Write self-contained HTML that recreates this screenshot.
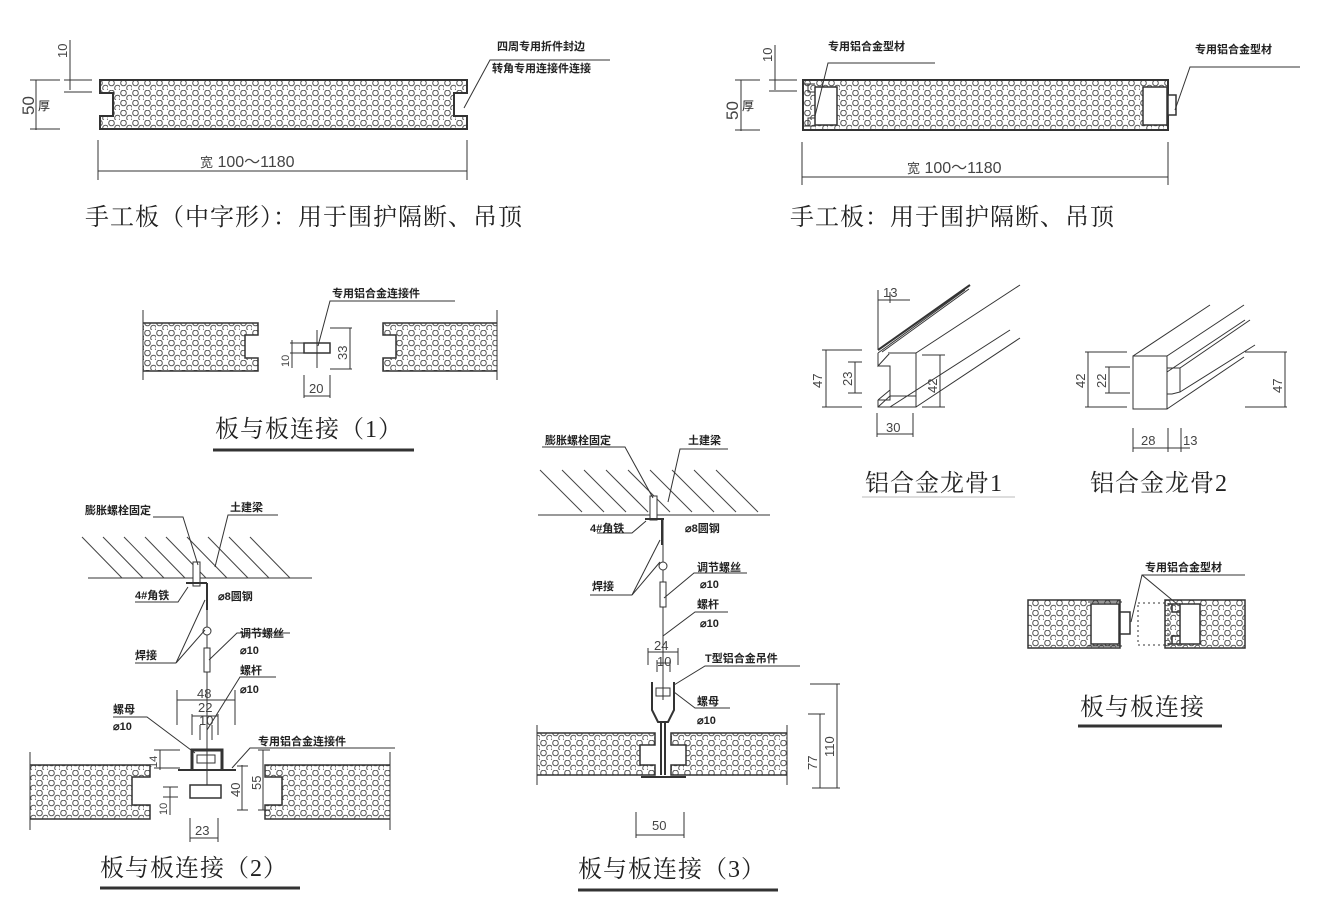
<!DOCTYPE html>
<html><head><meta charset="utf-8">
<style>
html,body{margin:0;padding:0;background:#fff;}
svg{display:block;}
.s{font-family:"Liberation Sans","Noto Sans CJK SC",sans-serif;font-size:11px;font-weight:bold;fill:#222;}
.d{font-family:"Liberation Sans",sans-serif;font-size:13px;fill:#444;}
.t{font-family:"Liberation Serif","Noto Serif CJK SC",serif;font-size:24px;fill:#222;letter-spacing:1px;}
</style></head>
<body>
<svg width="1328" height="909" viewBox="0 0 1328 909" xmlns="http://www.w3.org/2000/svg">
<defs>
<pattern id="p" width="12" height="10" patternUnits="userSpaceOnUse">
<circle cx="3.5" cy="3" r="2.8" fill="none" stroke="#555" stroke-width="1"/>
<circle cx="9.5" cy="8" r="2.8" fill="none" stroke="#555" stroke-width="1"/>
</pattern>
</defs>
<g stroke="#333" fill="none" stroke-width="1">

<path d="M100,80 H467 V93 H454 V116 H467 V129 H100 V116 H113 V93 H100 Z" fill="url(#p)" stroke-width="2"/>
<line x1="70" y1="40" x2="70" y2="90"/><line x1="64" y1="80" x2="92" y2="80"/><line x1="64" y1="92" x2="92" y2="92"/>
<line x1="36" y1="80" x2="36" y2="130"/><line x1="30" y1="80" x2="60" y2="80"/><line x1="30" y1="129" x2="60" y2="129"/>
<line x1="98" y1="140" x2="98" y2="180"/><line x1="467" y1="140" x2="467" y2="180"/><line x1="98" y1="171" x2="467" y2="171"/>
<polyline points="464,108 490,60 610,60"/>

<rect x="803" y="80" width="365" height="50" fill="url(#p)" stroke-width="2"/>
<rect x="815" y="87" width="22" height="38" fill="#fff" stroke-width="1.5"/>
<path d="M803,84 H815 M803,126 H815 M808,84 V92 H815 M808,126 V118 H815"/>
<rect x="1143" y="87" width="24" height="38" fill="#fff" stroke-width="1.5"/>
<rect x="1168" y="95" width="8" height="20" fill="#fff" stroke-width="1.5"/>
<line x1="775" y1="45" x2="775" y2="90"/><line x1="769" y1="80" x2="797" y2="80"/><line x1="769" y1="91" x2="797" y2="91"/>
<line x1="741" y1="80" x2="741" y2="131"/><line x1="735" y1="80" x2="760" y2="80"/><line x1="735" y1="130" x2="760" y2="130"/>
<line x1="802" y1="142" x2="802" y2="185"/><line x1="1168" y1="142" x2="1168" y2="185"/><line x1="802" y1="177" x2="1168" y2="177"/>
<polyline points="815,116 828,63 935,63"/>
<polyline points="1175,110 1190,67 1300,67"/>

<path d="M143,323 H258 V335 H245 V358 H258 V371 H143" fill="url(#p)" stroke-width="1.5"/>
<line x1="143" y1="310" x2="143" y2="380"/>
<path d="M497,323 H383 V335 H396 V358 H383 V371 H497" fill="url(#p)" stroke-width="1.5"/>
<line x1="497" y1="310" x2="497" y2="380"/>
<rect x="304" y="343" width="26" height="10" stroke-width="1.5"/>
<line x1="317" y1="330" x2="317" y2="368"/>
<line x1="330" y1="328" x2="352" y2="328"/><line x1="330" y1="369" x2="352" y2="369"/><line x1="350" y1="328" x2="350" y2="369"/>
<line x1="290" y1="343" x2="304" y2="343"/><line x1="290" y1="353" x2="304" y2="353"/><line x1="292" y1="340" x2="292" y2="368"/>
<line x1="304" y1="375" x2="304" y2="398"/><line x1="330" y1="375" x2="330" y2="398"/><line x1="304" y1="396" x2="330" y2="396"/>
<polyline points="318,346 330,301 455,301"/>
<line x1="213" y1="450" x2="414" y2="450" stroke-width="3"/>

<line x1="88" y1="578" x2="312" y2="578"/>
<g stroke="#444"><line x1="82" y1="537" x2="122" y2="578"/><line x1="103" y1="537" x2="143" y2="578"/><line x1="124" y1="537" x2="164" y2="578"/><line x1="145" y1="537" x2="185" y2="578"/><line x1="166" y1="537" x2="206" y2="578"/><line x1="187" y1="537" x2="227" y2="578"/><line x1="208" y1="537" x2="248" y2="578"/><line x1="229" y1="537" x2="269" y2="578"/><line x1="250" y1="537" x2="290" y2="578"/></g>
<rect x="193" y="562" width="7" height="24" fill="#fff"/>
<line x1="186" y1="583" x2="207" y2="583" stroke-width="2"/>
<line x1="207" y1="583" x2="207" y2="610" stroke-width="2"/>
<line x1="207" y1="583" x2="207" y2="795"/>
<circle cx="207" cy="631" r="4" fill="#fff"/>
<rect x="204" y="648" width="6" height="24" fill="#fff"/>
<polyline points="153,517 183,517 198,565"/>
<polyline points="215,567 228,515 278,515"/>
<polyline points="135,602 178,602 188,587"/>
<polyline points="176,663 205,600"/><polyline points="176,663 205,630"/>
<line x1="135" y1="663" x2="176" y2="663"/>
<polyline points="209,660 237,633 290,633"/>
<polyline points="207,730 240,677 276,677"/>
<polyline points="113,717 147,717 195,753"/>
<polyline points="232,768 250,748 395,748"/>
<line x1="177" y1="690" x2="177" y2="725"/><line x1="235" y1="690" x2="235" y2="725"/><line x1="177" y1="700" x2="235" y2="700"/>
<line x1="192" y1="714" x2="192" y2="735"/><line x1="218" y1="714" x2="218" y2="735"/><line x1="192" y1="716" x2="218" y2="716"/>
<line x1="200" y1="725" x2="200" y2="740"/><line x1="212" y1="725" x2="212" y2="740"/>
<path d="M192,770 V750 H222 V770" stroke-width="3"/>
<rect x="197" y="755" width="18" height="8"/>
<path d="M178,770 H236" stroke-width="2"/>
<rect x="190" y="785" width="31" height="13" fill="#fff" stroke-width="1.5"/>
<path d="M30,765 H150 V777 H132 V805 H150 V819 H30" fill="url(#p)" stroke-width="1.5"/>
<line x1="30" y1="752" x2="30" y2="830"/>
<path d="M390,765 H265 V777 H282 V805 H265 V819 H390" fill="url(#p)" stroke-width="1.5"/>
<line x1="390" y1="752" x2="390" y2="830"/>
<line x1="160" y1="750" x2="160" y2="770"/><line x1="154" y1="750" x2="180" y2="750"/><line x1="154" y1="768" x2="180" y2="768"/>
<line x1="170" y1="787" x2="170" y2="815"/><line x1="163" y1="787" x2="178" y2="787"/><line x1="163" y1="797" x2="178" y2="797"/>
<line x1="242" y1="765" x2="242" y2="810"/><line x1="237" y1="766" x2="248" y2="766"/><line x1="237" y1="810" x2="248" y2="810"/>
<line x1="263" y1="750" x2="263" y2="810"/><line x1="258" y1="750" x2="270" y2="750"/><line x1="258" y1="810" x2="270" y2="810"/>
<line x1="190" y1="818" x2="190" y2="842"/><line x1="218" y1="818" x2="218" y2="842"/><line x1="190" y1="838" x2="218" y2="838"/>
<line x1="100" y1="888" x2="300" y2="888" stroke-width="3"/>

<line x1="538" y1="515" x2="770" y2="515"/>
<g stroke="#444"><line x1="540" y1="470" x2="582" y2="512"/><line x1="562" y1="470" x2="604" y2="512"/><line x1="584" y1="470" x2="626" y2="512"/><line x1="606" y1="470" x2="648" y2="512"/><line x1="628" y1="470" x2="670" y2="512"/><line x1="650" y1="470" x2="692" y2="512"/><line x1="672" y1="470" x2="714" y2="512"/><line x1="694" y1="470" x2="736" y2="512"/><line x1="716" y1="470" x2="758" y2="512"/></g>
<rect x="650" y="496" width="7" height="24" fill="#fff"/>
<line x1="645" y1="519" x2="664" y2="519" stroke-width="2"/>
<line x1="662" y1="519" x2="662" y2="545" stroke-width="2"/>
<line x1="663" y1="519" x2="663" y2="700"/>
<circle cx="663" cy="566" r="4" fill="#fff"/>
<rect x="660" y="582" width="6" height="25" fill="#fff"/>
<polyline points="542,447 625,447 653,498"/>
<polyline points="668,502 680,449 728,449"/>
<polyline points="597,533 632,533 646,521"/>
<polyline points="632,595 660,540"/><polyline points="632,595 660,562"/>
<line x1="590" y1="595" x2="632" y2="595"/>
<polyline points="664,598 694,573 747,573"/>
<polyline points="663,636 695,612 728,612"/>
<polyline points="674,685 705,666 800,666"/>
<polyline points="674,692 695,708 730,708"/>
<line x1="648" y1="648" x2="648" y2="665"/><line x1="678" y1="648" x2="678" y2="665"/><line x1="648" y1="652" x2="678" y2="652"/>
<line x1="657" y1="660" x2="657" y2="672"/><line x1="670" y1="660" x2="670" y2="672"/><line x1="657" y1="663" x2="670" y2="663"/>
<path d="M652,682 V710 L658,722 H668 L674,710 V682" stroke-width="2"/>
<rect x="656" y="688" width="14" height="8"/>
<line x1="661" y1="722" x2="661" y2="775" stroke-width="2"/><line x1="665" y1="722" x2="665" y2="775" stroke-width="2"/>
<line x1="641" y1="777" x2="686" y2="777" stroke-width="2"/>
<path d="M537,733 H655 V745 H640 V765 H655 V775 H537" fill="url(#p)" stroke-width="1.5"/>
<path d="M787,733 H671 V745 H686 V765 H671 V775 H787" fill="url(#p)" stroke-width="1.5"/>
<line x1="537" y1="725" x2="537" y2="785"/><line x1="787" y1="725" x2="787" y2="785"/>
<line x1="810" y1="684" x2="840" y2="684"/><line x1="837" y1="684" x2="837" y2="788"/><line x1="812" y1="788" x2="840" y2="788"/>
<line x1="808" y1="714" x2="825" y2="714"/><line x1="820" y1="714" x2="820" y2="788"/>
<line x1="636" y1="812" x2="636" y2="838"/><line x1="684" y1="812" x2="684" y2="838"/><line x1="636" y1="835" x2="684" y2="835"/>
<line x1="578" y1="890" x2="778" y2="890" stroke-width="3"/>

<path d="M878,353 V366 L889,354 V352 M878,353 L965,290 M882,352 L969,289"/>
<line x1="878" y1="350" x2="970" y2="285" stroke-width="2"/>
<path d="M878,366 H890 V400 H878 M878,400 L890,390 M878,400 V407 H916 V353 H890"/>
<path d="M878,407 L890,396 H916 M916,353 L1020,285 M916,407 L1020,338 M890,407 L1010,330"/>
<line x1="878" y1="290" x2="878" y2="350"/><line x1="878" y1="300" x2="910" y2="300"/><line x1="890" y1="292" x2="890" y2="303"/>
<line x1="822" y1="350" x2="862" y2="350"/><line x1="822" y1="407" x2="862" y2="407"/><line x1="826" y1="350" x2="826" y2="407"/>
<line x1="848" y1="362" x2="862" y2="362"/><line x1="848" y1="393" x2="862" y2="393"/><line x1="855" y1="362" x2="855" y2="393"/>
<line x1="922" y1="355" x2="945" y2="355"/><line x1="922" y1="407" x2="945" y2="407"/><line x1="940" y1="355" x2="940" y2="407"/>
<line x1="877" y1="413" x2="877" y2="437"/><line x1="913" y1="413" x2="913" y2="437"/><line x1="877" y1="434" x2="913" y2="434"/>
<line x1="862" y1="497" x2="1015" y2="497" stroke="#bbb"/>
<rect x="1133" y="356" width="34" height="53"/>
<path d="M1133,356 L1210,305 M1167,356 L1244,305 M1167,409 L1244,357"/>
<path d="M1167,368 H1180 V392 L1172,394 H1167 M1180,368 L1250,320 M1180,392 L1255,345 M1167,372 L1245,320"/>
<line x1="1085" y1="352" x2="1127" y2="352"/><line x1="1085" y1="407" x2="1127" y2="407"/><line x1="1088" y1="352" x2="1088" y2="407"/>
<line x1="1105" y1="367" x2="1130" y2="367"/><line x1="1105" y1="393" x2="1130" y2="393"/><line x1="1109" y1="367" x2="1109" y2="393"/>
<line x1="1245" y1="352" x2="1287" y2="352"/><line x1="1245" y1="407" x2="1287" y2="407"/><line x1="1285" y1="352" x2="1285" y2="407"/>
<line x1="1133" y1="428" x2="1133" y2="452"/><line x1="1168" y1="428" x2="1168" y2="452"/><line x1="1181" y1="428" x2="1181" y2="452"/><line x1="1133" y1="448" x2="1190" y2="448"/>

<rect x="1028" y="600" width="92" height="48" fill="url(#p)" stroke-width="1.5"/>
<rect x="1091" y="604" width="28" height="40" fill="#fff" stroke-width="1.5"/>
<rect x="1120" y="612" width="10" height="22" fill="#fff" stroke-width="1.5"/>
<path d="M1088,602 H1122 M1088,646 H1122"/>
<rect x="1165" y="600" width="80" height="48" fill="url(#p)" stroke-width="1.5"/>
<rect x="1180" y="604" width="20" height="40" fill="#fff" stroke-width="1.5"/>
<rect x="1138" y="603" width="30" height="42" fill="none" stroke-dasharray="2,3"/>
<path d="M1168,604 H1180 M1168,644 H1180 M1172,604 V612 H1180 M1172,644 V636 H1180" stroke-width="1.5"/>
<polyline points="1131,622 1142,575 1245,575"/>
<polyline points="1142,575 1177,604"/>
<line x1="1078" y1="726" x2="1222" y2="726" stroke-width="3"/>
</g>

<text class="s" x="497" y="50">四周专用折件封边</text>
<text class="s" x="492" y="72">转角专用连接件连接</text>
<text class="d" x="0" y="0" transform="translate(67,58) rotate(-90)">10</text>
<text class="d" x="0" y="0" transform="translate(34,115) rotate(-90)" style="font-size:17px">50</text>
<text class="s" x="38" y="110" style="font-weight:normal;font-size:12px">厚</text>
<text class="d" x="200" y="167" style="font-size:16px"><tspan style="font-size:13px">宽</tspan> 100～1180</text>
<text class="t" x="85" y="225">手工板（中字形）：用于围护隔断、吊顶</text>

<text class="s" x="828" y="50">专用铝合金型材</text>
<text class="s" x="1195" y="53">专用铝合金型材</text>
<text class="d" x="0" y="0" transform="translate(772,62) rotate(-90)">10</text>
<text class="d" x="0" y="0" transform="translate(738,120) rotate(-90)" style="font-size:17px">50</text>
<text class="s" x="742" y="110" style="font-weight:normal;font-size:12px">厚</text>
<text class="d" x="907" y="173" style="font-size:16px"><tspan style="font-size:13px">宽</tspan> 100～1180</text>
<text class="t" x="790" y="225">手工板：用于围护隔断、吊顶</text>

<text class="s" x="332" y="297">专用铝合金连接件</text>
<text class="d" x="0" y="0" transform="translate(289,367) rotate(-90)" style="font-size:11px">10</text>
<text class="d" x="0" y="0" transform="translate(347,360) rotate(-90)">33</text>
<text class="d" x="309" y="393">20</text>
<text class="t" x="215" y="437">板与板连接（1）</text>

<text class="s" x="85" y="514">膨胀螺栓固定</text>
<text class="s" x="230" y="511">土建梁</text>
<text class="s" x="135" y="599">4#角铁</text>
<text class="s" x="218" y="600">⌀8圆钢</text>
<text class="s" x="135" y="659">焊接</text>
<text class="s" x="240" y="637">调节螺丝</text>
<text class="s" x="240" y="654">⌀10</text>
<text class="s" x="240" y="674">螺杆</text>
<text class="s" x="240" y="693">⌀10</text>
<text class="s" x="113" y="713">螺母</text>
<text class="s" x="113" y="730">⌀10</text>
<text class="s" x="258" y="745">专用铝合金连接件</text>
<text class="d" x="197" y="698">48</text>
<text class="d" x="198" y="712">22</text>
<text class="d" x="199" y="725">10</text>
<text class="d" x="0" y="0" transform="translate(157,768) rotate(-90)" style="font-size:11px">14</text>
<text class="d" x="0" y="0" transform="translate(167,815) rotate(-90)" style="font-size:11px">10</text>
<text class="d" x="0" y="0" transform="translate(240,797) rotate(-90)">40</text>
<text class="d" x="0" y="0" transform="translate(261,790) rotate(-90)">55</text>
<text class="d" x="195" y="835">23</text>
<text class="t" x="100" y="876">板与板连接（2）</text>

<text class="s" x="545" y="444">膨胀螺栓固定</text>
<text class="s" x="688" y="444">土建梁</text>
<text class="s" x="590" y="532">4#角铁</text>
<text class="s" x="685" y="532">⌀8圆钢</text>
<text class="s" x="592" y="590">焊接</text>
<text class="s" x="697" y="571">调节螺丝</text>
<text class="s" x="700" y="588">⌀10</text>
<text class="s" x="697" y="608">螺杆</text>
<text class="s" x="700" y="627">⌀10</text>
<text class="s" x="705" y="662">T型铝合金吊件</text>
<text class="s" x="697" y="705">螺母</text>
<text class="s" x="697" y="724">⌀10</text>
<text class="d" x="654" y="650">24</text>
<text class="d" x="657" y="666">10</text>
<text class="d" x="0" y="0" transform="translate(834,757) rotate(-90)">110</text>
<text class="d" x="0" y="0" transform="translate(817,770) rotate(-90)">77</text>
<text class="d" x="652" y="830">50</text>
<text class="t" x="578" y="877">板与板连接（3）</text>

<text class="d" x="883" y="297">13</text>
<text class="d" x="0" y="0" transform="translate(822,388) rotate(-90)">47</text>
<text class="d" x="0" y="0" transform="translate(852,386) rotate(-90)">23</text>
<text class="d" x="0" y="0" transform="translate(937,393) rotate(-90)">42</text>
<text class="d" x="886" y="432">30</text>
<text class="t" x="865" y="491">铝合金龙骨1</text>
<text class="d" x="0" y="0" transform="translate(1085,388) rotate(-90)">42</text>
<text class="d" x="0" y="0" transform="translate(1106,388) rotate(-90)">22</text>
<text class="d" x="0" y="0" transform="translate(1282,393) rotate(-90)">47</text>
<text class="d" x="1141" y="445">28</text>
<text class="d" x="1183" y="445">13</text>
<text class="t" x="1090" y="491">铝合金龙骨2</text>

<text class="s" x="1145" y="571">专用铝合金型材</text>
<text class="t" x="1080" y="715">板与板连接</text>
</svg>
</body></html>
